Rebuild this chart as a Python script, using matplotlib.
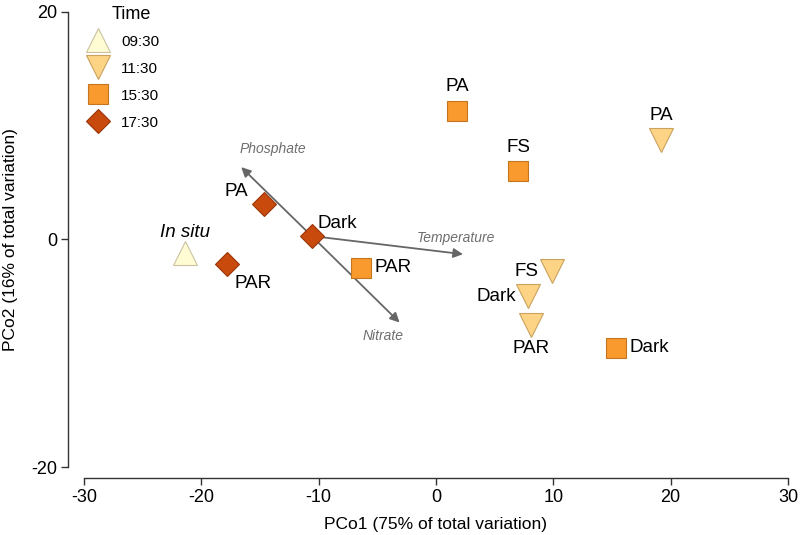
import matplotlib
matplotlib.use('Agg')
import matplotlib.pyplot as plt

plt.rcParams['font.family'] = ['Liberation Sans', 'DejaVu Sans']
plt.rcParams['axes.unicode_minus'] = False

# PCo scores per sampling time
times = ['09:30', '11:30', '15:30', '17:30']
t0930_x = [-21.4]
t0930_y = [-1.2]
t0930_lab = ['In situ']
t1130_x = [19.2, 9.9, 7.8, 8.1]
t1130_y = [8.75, -2.8, -5.0, -7.5]
t1130_lab = ['PA', 'FS', 'Dark', 'PAR']
t1530_x = [1.8, 7.0, -6.4, 15.3]
t1530_y = [11.3, 6.0, -2.5, -9.5]
t1530_lab = ['PA', 'FS', 'PAR', 'Dark']
t1730_x = [-14.7, -10.6, -17.8]
t1730_y = [3.1, 0.3, -2.2]
t1730_lab = ['PA', 'Dark', 'PAR']

# environmental vectors (origin + tip)
vec_origin = (-10.6, 0.3)
vec_names = ['Phosphate', 'Nitrate', 'Temperature']
vec_tip_x = [-16.6, -3.1, 2.3]
vec_tip_y = [6.35, -7.3, -1.3]

fig = plt.figure(figsize=(8, 5.35), dpi=100)
ax = fig.add_axes([0.105, 0.127, 0.88, 0.851])

styles = {
    '09:30': dict(marker='^', ms=17, mfc='#FFFBD2', mec='#C9C3A2'),
    '11:30': dict(marker='v', ms=17, mfc='#FDD386', mec='#C9A25E'),
    '15:30': dict(marker='s', ms=14, mfc='#F99A2E', mec='#C57420'),
    '17:30': dict(marker='D', ms=12, mfc='#C84A0C', mec='#9A3508'),
}
groups = [(t0930_x, t0930_y), (t1130_x, t1130_y), (t1530_x, t1530_y), (t1730_x, t1730_y)]

# vectors drawn beneath markers
for name, tx, ty in zip(vec_names, vec_tip_x, vec_tip_y):
    ax.annotate('', xy=(tx, ty), xytext=vec_origin,
                arrowprops=dict(arrowstyle='-|>', color='#666666', lw=1.3,
                                mutation_scale=14, shrinkA=0, shrinkB=0), zorder=2)

for t, (xs, ys) in zip(times, groups):
    ax.plot(xs, ys, ls='none', label=t, zorder=3, mew=0.8, **styles[t])

lab_kw = dict(fontsize=13.5, color='black', zorder=4)
# 09:30
ax.text(t0930_x[0], t0930_y[0] + 1.8, t0930_lab[0], ha='center', va='center', style='italic', **lab_kw)
# 11:30
off1130 = [(0, 2.1, 'center'), (-1.2, 0, 'right'), (-1.0, 0, 'right'), (0, -2.1, 'center')]
for x, y, s, (dx, dy, ha) in zip(t1130_x, t1130_y, t1130_lab, off1130):
    ax.text(x + dx, y + dy, s, ha=ha, va='center', **lab_kw)
# 15:30
off1530 = [(0, 2.1, 'center'), (0, 2.1, 'center'), (1.2, 0, 'left'), (1.2, 0, 'left')]
for x, y, s, (dx, dy, ha) in zip(t1530_x, t1530_y, t1530_lab, off1530):
    ax.text(x + dx, y + dy, s, ha=ha, va='center', **lab_kw)
# 17:30
off1730 = [(-1.3, 1.1, 'right'), (0.5, 1.1, 'left'), (0.6, -1.7, 'left')]
for x, y, s, (dx, dy, ha) in zip(t1730_x, t1730_y, t1730_lab, off1730):
    ax.text(x + dx, y + dy, s, ha=ha, va='center', **lab_kw)

vec_lab_pos = [(-13.9, 7.9, 'center'), (-4.5, -8.5, 'center'), (1.7, 0.1, 'center')]
for name, (lx, ly, ha) in zip(vec_names, vec_lab_pos):
    ax.text(lx, ly, name, ha=ha, va='center', style='italic', fontsize=10, color='#6E6E6E')

ax.set_xlim(-30, 30)
ax.set_ylim(-20, 20)
ax.set_xticks([-30, -20, -10, 0, 10, 20, 30])
ax.set_yticks([-20, 0, 20])
for s in ['top', 'right']:
    ax.spines[s].set_visible(False)
ax.spines['left'].set_position(('outward', 11.5))
ax.spines['bottom'].set_position(('outward', 8))
for s in ['left', 'bottom']:
    ax.spines[s].set_color('#333333')
    ax.spines[s].set_linewidth(1.0)
ax.tick_params(direction='out', length=5, width=1.0, color='#333333', labelsize=13, pad=3)
ax.set_xlabel('PCo1 (75% of total variation)', fontsize=12.5, labelpad=8)
ax.set_ylabel('PCo2 (16% of total variation)', fontsize=12.5)
ax.yaxis.set_label_coords(-0.094, 0.5)

ax.text(0.067, 0.995, 'Time', transform=ax.transAxes, ha='center', va='center', fontsize=13)
leg = ax.legend(loc='upper left', bbox_to_anchor=(-0.009, 0.97), frameon=False,
                fontsize=11, handletextpad=0.75, labelspacing=0.85,
                borderaxespad=0.2, handlelength=1.5, markerscale=1.0)

fig.savefig('out.png', dpi=100)
